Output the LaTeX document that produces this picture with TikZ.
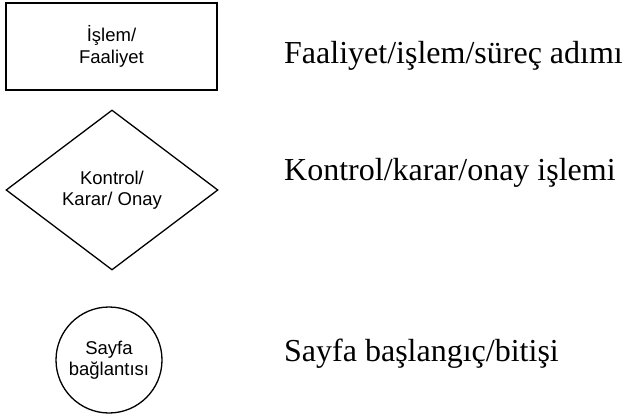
\documentclass[tikz,border=0pt]{standalone}
\usepackage{fontspec}
\setmainfont{Liberation Serif}
\newfontfamily\shapefont{Liberation Sans}
\usetikzlibrary{shapes.geometric}

\tikzset{
  symbol/.style={draw,line width=1.3pt,align=center,inner sep=0pt,
                 font=\shapefont\fontsize{18.5}{21.5}\selectfont},
  meaning/.style={anchor=base west,inner sep=0pt,
                  font=\fontsize{32}{38}\selectfont},
}

\begin{document}
\begin{tikzpicture}[x=1pt,y=-1pt]
    \useasboundingbox (0,0) rectangle (624,417);
    % symbols
    \node[symbol,rectangle,line width=1.8pt,minimum width=211pt,minimum height=87pt]
      (islem) at (111.5,46.5) {İşlem/\\Faaliyet};
    \node[symbol,diamond,minimum width=212pt,minimum height=160pt]
      (kontrol) at (112,190) {Kontrol/\\Karar/ Onay};
    \node[symbol,circle,minimum size=106pt]
      (sayfa) at (109,360) {Sayfa\\bağlantısı};
    % meanings
    \node[meaning] (islemtxt) at (284,64) {Faaliyet/işlem/süreç adımı};
    \node[meaning] (kontroltxt) at (284,180) {Kontrol/karar/onay işlemi};
    \node[meaning] (sayfatxt) at (284,361) {Sayfa başlangıç/bitişi};
  \end{tikzpicture}
\end{document}
